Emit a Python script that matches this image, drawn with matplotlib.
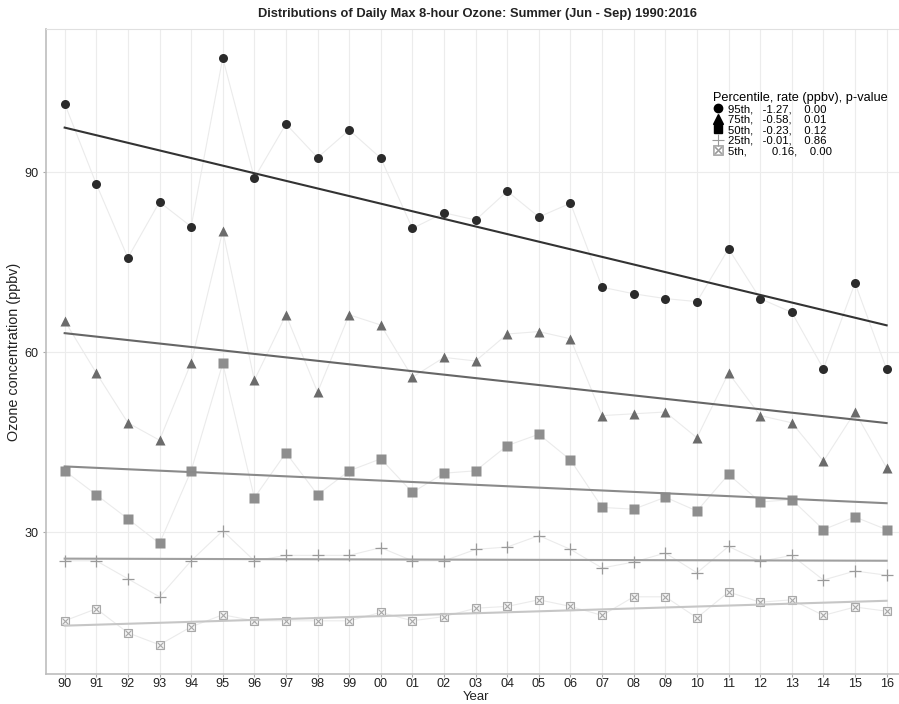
import numpy as np
import matplotlib
matplotlib.use('Agg')
import matplotlib.pyplot as plt
from matplotlib.lines import Line2D

plt.rcParams['font.family'] = ['Liberation Sans', 'DejaVu Sans']

years = ['90', '91', '92', '93', '94', '95', '96', '97', '98', '99', '00', '01', '02',
         '03', '04', '05', '06', '07', '08', '09', '10', '11', '12', '13', '14', '15', '16']

p95 = [101.4, 88.0, 75.7, 85.0, 80.9, 109.0, 89.0, 98.0, 92.4, 97.0, 92.3, 80.6, 83.2,
       82.0, 86.8, 82.5, 84.8, 70.8, 69.7, 68.9, 68.4, 77.2, 68.9, 66.6, 57.2, 71.5, 57.1]
p75 = [65.2, 56.5, 48.2, 45.3, 58.2, 80.2, 55.3, 66.2, 53.3, 66.2, 64.5, 55.8, 59.1,
       58.5, 63.0, 63.4, 62.2, 49.4, 49.7, 50.0, 45.7, 56.5, 49.4, 48.2, 41.8, 50.0, 40.7]
p50 = [40.2, 36.2, 32.2, 28.1, 40.2, 58.1, 35.7, 43.2, 36.2, 40.2, 42.2, 36.6, 39.8,
       40.2, 44.4, 46.3, 42.0, 34.1, 33.8, 35.8, 33.5, 39.6, 35.0, 35.4, 30.4, 32.5, 30.4]
p25 = [25.2, 25.2, 22.2, 19.2, 25.2, 30.2, 25.2, 26.1, 26.1, 26.1, 27.4, 25.2, 25.2,
       27.1, 27.5, 29.4, 27.1, 24.0, 25.0, 26.5, 23.2, 27.6, 25.1, 26.1, 22.0, 23.5, 22.8]
p5 = [15.2, 17.2, 13.2, 11.2, 14.2, 16.2, 15.2, 15.2, 15.2, 15.2, 16.6, 15.2, 15.9,
      17.3, 17.6, 18.7, 17.6, 16.1, 19.2, 19.2, 15.7, 20.0, 18.3, 18.7, 16.1, 17.5, 16.8]

legend_title = 'Percentile, rate (ppbv), p-value'
legend_labels = ['95th,   -1.27,    0.00',
                 '75th,   -0.58,    0.01',
                 '50th,   -0.23,    0.12',
                 '25th,   -0.01,    0.86',
                 '5th,        0.16,    0.00']

# style per series: marker, marker colour, trend colour, legend colour
series = [
    (p95, 'o', '#2b2b2b', '#333333', 'black'),
    (p75, '^', '#6b6b6b', '#666666', 'black'),
    (p50, 's', '#8e8e8e', '#8a8a8a', 'black'),
    (p25, '+', '#9a9a9a', '#a0a0a0', '#999999'),
    (p5, 'bx', '#a8a8a8', '#c6c6c6', '#999999'),
]

fig = plt.figure(figsize=(8.99, 7.04), dpi=100)
W, H = 899, 704
ax = fig.add_axes([45.7 / W, 1 - 674.2 / H, (905.6 - 45.7) / W, (674.2 - 28.6) / H])

x = np.arange(len(years))

for vals, mk, mc, tc, lc in series:
    vals = np.array(vals)
    ax.plot(x, vals, color='#ebebeb', lw=0.8, zorder=2)
    if mk == 'bx':
        ax.plot(x, vals, ls='none', marker='s', ms=6.2, mfc='#f4f4f4', mec=mc, mew=0.8, zorder=3)
        ax.plot(x, vals, ls='none', marker='x', ms=4.4, mec=mc, mew=0.8, zorder=3)
    elif mk == '+':
        ax.plot(x, vals, ls='none', marker='+', ms=9, mec=mc, mew=0.9, zorder=3)
    elif mk == '^':
        ax.plot(x, vals, ls='none', marker='^', ms=7.5, color=mc, mec='none', zorder=3)
    else:
        ax.plot(x, vals, ls='none', marker=mk, ms=6.5, color=mc, mec='none', zorder=3)
    b, a = np.polyfit(x, vals, 1)
    ax.plot(x, a + b * x, color=tc, lw=1.5, zorder=4)

ax.set_xlim(-0.6, len(years) - 1 + 0.6)
ax.set_ylim(6.3, 113.9)
ax.set_xticks(x)
ax.set_xticklabels(years)
ax.set_yticks([30, 60, 90])
ax.tick_params(axis='both', colors='#aaaaaa', labelcolor='#222222', labelsize=9.1, length=2.5, width=0.8)
ax.tick_params(axis='x', pad=0.5)
ax.tick_params(axis='y', pad=3)
ax.grid(True, color='#ececec', lw=0.8)
ax.set_axisbelow(True)
for s in ['left', 'bottom']:
    ax.spines[s].set_color('#bdbdbd')
    ax.spines[s].set_linewidth(1.2)
for s in ['top', 'right']:
    ax.spines[s].set_color('#e0e0e0')
    ax.spines[s].set_linewidth(0.8)

ax.set_xlabel('Year', fontsize=9.5, color='#222222', labelpad=0.3)
ax.set_ylabel('Ozone concentration (ppbv)', fontsize=10.4, color='#222222', labelpad=2)
fig.text(477.5 / W, 1 - 14 / H, 'Distributions of Daily Max 8-hour Ozone: Summer (Jun - Sep) 1990:2016',
         ha='center', va='center', fontsize=9.3, fontweight='bold', color='#222222')

handles = []
for vals, mk, mc, tc, lc in series:
    if mk == 'bx':
        handles.append(Line2D([], [], ls='none', marker=r'$\boxtimes$', ms=7.5, color=lc, mew=0.2))
    elif mk == '+':
        handles.append(Line2D([], [], ls='none', marker='+', ms=9, mec=lc, mew=0.8))
    elif mk == '^':
        handles.append(Line2D([], [], ls='none', marker='^', ms=7, color=lc))
    elif mk == 's':
        handles.append(Line2D([], [], ls='none', marker='s', ms=5.5, color=lc))
    else:
        handles.append(Line2D([], [], ls='none', marker='o', ms=6, color=lc))
leg = ax.legend(handles, legend_labels, title=legend_title, loc='upper left',
                bbox_to_anchor=((713 - 45.7) / (905.6 - 45.7), (674.2 - 92) / (674.2 - 28.6)),
                frameon=False, fontsize=8.2, title_fontsize=9.2, handlelength=0.9,
                handletextpad=0.45, labelspacing=0.05, borderpad=0.0, borderaxespad=0.0)
leg._legend_box.align = 'left'
leg._legend_box.sep = 0

fig.savefig('out.png', dpi=100)
